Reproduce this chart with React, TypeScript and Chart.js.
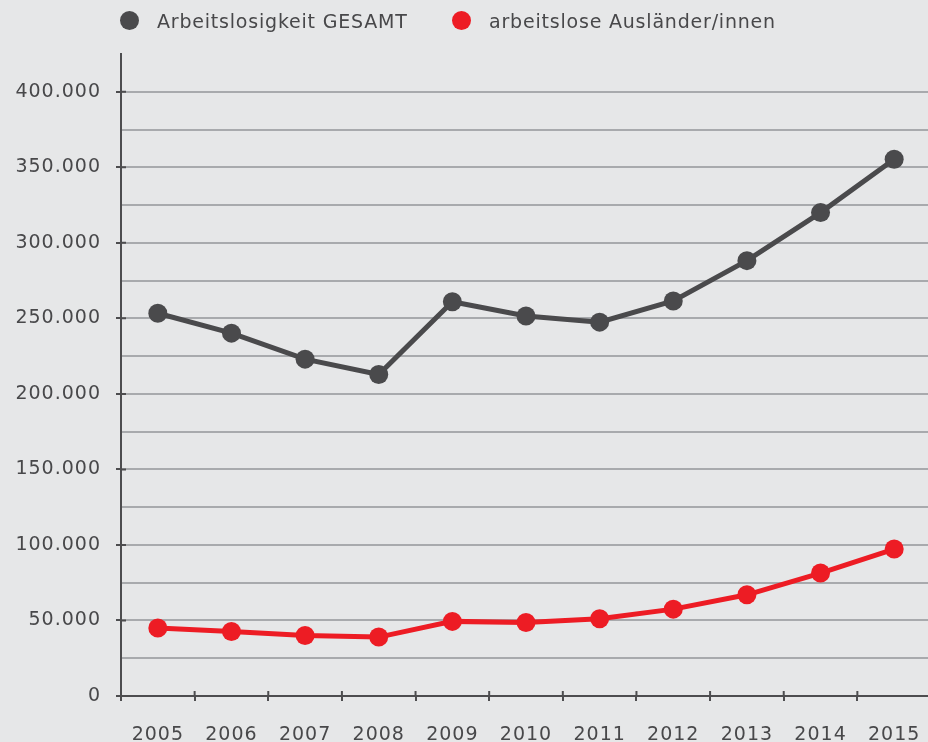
import React, { useEffect, useRef } from 'react';
import { Chart, registerables } from 'chart.js';

Chart.register(...registerables);

// ---- data ----
const years = ['2005', '2006', '2007', '2008', '2009', '2010', '2011', '2012', '2013', '2014', '2015'];
const gesamt = [253400, 240200, 223000, 212800, 261000, 251600, 247500, 261500, 288200, 320000, 355300];
const auslaender = [45000, 42700, 40100, 39000, 49400, 48600, 51100, 57500, 67000, 81400, 97300];
const seriesNames = ['Arbeitslosigkeit GESAMT', 'arbeitslose Ausländer/innen'];

const yMax = 425000;
const yStep = 25000;
const labelStep = 50000;

// ---- styles ----
const BG = '#e6e7e8';
const GRID = '#a8aaad';
const AXIS = '#4d4d4f';
const TEXT = '#48484a';
const seriesColors = ['#4a4a4c', '#ed1c24'];
const FONT = "'DejaVu Sans', sans-serif";

const fmt = (v: number) => String(v).replace(/\B(?=(\d{3})+(?!\d))/g, '.');
const isLabelTick = (v: number) => v % labelStep === 0 && v < yMax;

const axisCross = {
  id: 'axisCross',
  beforeDraw(chart: any) {
    chart.ctx.letterSpacing = '1px';
  },
  afterDraw(chart: any) {
    const { ctx, chartArea, scales } = chart;
    const xs = scales.x;
    const ys = scales.y;
    ctx.save();
    ctx.letterSpacing = '0px';
    ctx.strokeStyle = AXIS;
    ctx.lineWidth = 2;
    ctx.beginPath();
    for (let i = 1; i < years.length; i++) {
      const px = (xs.getPixelForValue(i - 1) + xs.getPixelForValue(i)) / 2;
      ctx.moveTo(px, chartArea.bottom - 5);
      ctx.lineTo(px, chartArea.bottom);
    }
    for (let v = labelStep; v < yMax; v += labelStep) {
      const py = ys.getPixelForValue(v);
      ctx.moveTo(chartArea.left, py);
      ctx.lineTo(chartArea.left + 5, py);
    }
    ctx.stroke();
    ctx.restore();
    chart.ctx.letterSpacing = '0px';
  },
};

function LineChart() {
  const ref = useRef<HTMLCanvasElement | null>(null);
  useEffect(() => {
    if (!ref.current) return;
    Chart.defaults.font.family = FONT;
    const mk = (i: number, data: number[]) => ({
      label: seriesNames[i],
      data,
      borderColor: seriesColors[i],
      backgroundColor: seriesColors[i],
      pointBackgroundColor: seriesColors[i],
      pointBorderWidth: 0,
      pointRadius: 9.5,
      borderWidth: 5,
      tension: 0,
      clip: false as any,
    });
    const chart = new Chart(ref.current, {
      type: 'line',
      data: {
        labels: years,
        datasets: [mk(0, gesamt), mk(1, auslaender)],
      },
      options: {
        animation: false,
        responsive: true,
        maintainAspectRatio: false,
        layout: { autoPadding: false, padding: { top: 54, left: 0, right: 0, bottom: 0 } },
        plugins: {
          legend: { display: false },
          tooltip: { enabled: false },
        },
        events: [],
        scales: {
          x: {
            offset: true,
            afterFit: (s: any) => {
              s.height = 46;
              s.paddingLeft = 0;
              s.paddingRight = 0;
            },
            grid: {
              offset: true,
              drawOnChartArea: false,
              drawTicks: true,
              tickLength: 5,
              tickWidth: 2,
              tickColor: AXIS,
              color: AXIS,
              lineWidth: 2,
            },
            border: { display: true, color: AXIS, width: 2 },
            ticks: {
              padding: 23,
              color: TEXT,
              font: { size: 19, family: FONT },
              maxRotation: 0,
              autoSkip: false,
            },
          },
          y: {
            min: 0,
            max: yMax,
            afterFit: (s: any) => {
              s.width = 121;
            },
            ticks: {
              stepSize: yStep,
              autoSkip: false,
              padding: 15,
              color: TEXT,
              font: { size: 19, family: FONT },
              callback: (v: any) => (isLabelTick(Number(v)) ? fmt(Number(v)) : ''),
            },
            grid: {
              color: (c: any) =>
                c.tick && (c.tick.value >= yMax || c.tick.value === 0) ? 'rgba(0,0,0,0)' : GRID,
              lineWidth: 2,
              drawTicks: true,
              tickLength: 5,
              tickWidth: 2,
              tickColor: (c: any) => (c.tick && isLabelTick(c.tick.value) ? AXIS : 'rgba(0,0,0,0)'),
            },
            border: { display: true, color: AXIS, width: 2 },
          },
        },
      },
      plugins: [axisCross],
    });
    return () => chart.destroy();
  }, []);
  return <canvas ref={ref} />;
}

const legendText: React.CSSProperties = {
  position: 'absolute',
  top: 10,
  fontFamily: FONT,
  fontSize: 19,
  lineHeight: '22px',
  letterSpacing: '0.8px',
  color: TEXT,
  whiteSpace: 'nowrap',
};

const dot = (color: string, cx: number): React.CSSProperties => ({
  position: 'absolute',
  left: cx - 9.5,
  top: 11,
  width: 19,
  height: 19,
  borderRadius: '50%',
  background: color,
});

export default function App() {
  return (
    <div
      style={{
        position: 'fixed',
        left: 0,
        top: 0,
        width: 928,
        height: 742,
        overflow: 'hidden',
        background: BG,
      }}
    >
      <div style={{ position: 'absolute', left: 0, top: 0, width: 931, height: 742 }}>
        <LineChart />
      </div>
      <div style={dot(seriesColors[0], 129)} />
      <div style={{ ...legendText, left: 157 }}>{seriesNames[0]}</div>
      <div style={dot(seriesColors[1], 461)} />
      <div style={{ ...legendText, left: 489 }}>{seriesNames[1]}</div>
    </div>
  );
}
